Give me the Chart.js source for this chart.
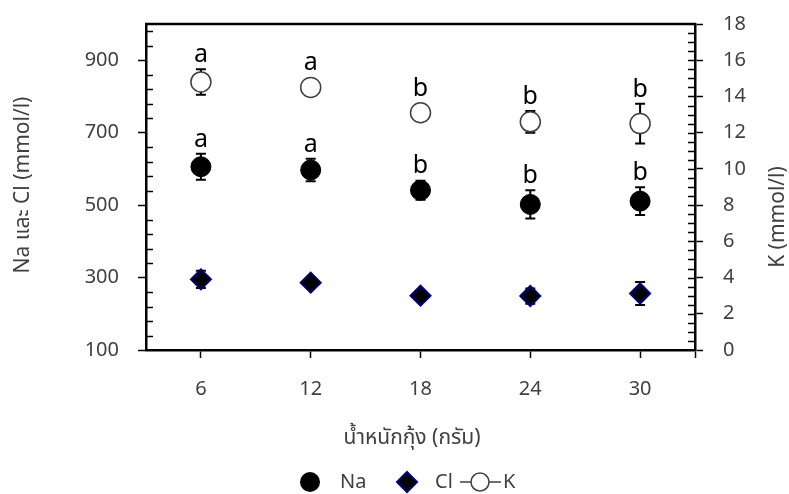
<!DOCTYPE html>
<html>
<head>
<meta charset="utf-8">
<script src="https://cdn.jsdelivr.net/npm/chart.js@4/dist/chart.umd.min.js"></script>
<style>
  html, body { margin: 0; padding: 0; background: #fff; }
  #wrap { width: 789px; height: 494px; }
</style>
</head>
<body>
<div id="wrap"><canvas id="chart" width="789" height="494"></canvas></div>
<script>
// shrimp weight (g) and ion levels
const weights = [6, 12, 18, 24, 30];
const naValues = [606, 597, 541, 502, 511];
const naErrors = [36, 31, 26, 39, 38];
const clValues = [295, 286, 250, 249, 256];
const clErrors = [24, 10, 12, 21, 32];
const kValues = [14.8, 14.5, 13.1, 12.6, 12.5];
const kErrors = [0.7, 0.45, 0.3, 0.6, 1.1];
const naLetters = ['a', 'a', 'b', 'b', 'b'];
const kLetters = ['a', 'a', 'b', 'b', 'b'];
const leftTicks = [100, 300, 500, 700, 900];
const rightTicks = [0, 2, 4, 6, 8, 10, 12, 14, 16, 18];

const font = "'Noto Sans', 'Noto Sans Thai', 'DejaVu Sans', sans-serif";
const textColor = '#404040';

const toPoints = (vals) => weights.map((w, i) => ({ x: w, y: vals[i] }));

const decor = {
    id: 'decor',
    beforeDatasetsDraw(chart) {
        const ctx = chart.ctx;
        const errs = [naErrors, clErrors, kErrors];
        ctx.save();
        ctx.strokeStyle = '#000';
        ctx.lineWidth = 2;
        chart.data.datasets.forEach((ds, d) => {
            const ys = chart.scales[ds.yAxisID];
            const xs = chart.scales.x;
            ds.data.forEach((p, i) => {
                const x = xs.getPixelForValue(p.x);
                const top = ys.getPixelForValue(p.y + errs[d][i]);
                const bot = ys.getPixelForValue(p.y - errs[d][i]);
                ctx.beginPath();
                ctx.moveTo(x, top); ctx.lineTo(x, bot);
                ctx.moveTo(x - 5, top); ctx.lineTo(x + 5, top);
                ctx.moveTo(x - 5, bot); ctx.lineTo(x + 5, bot);
                ctx.stroke();
            });
        });
        ctx.restore();
    },
    afterDatasetsDraw(chart) {
        const ctx = chart.ctx;
        ctx.save();
        ctx.fillStyle = '#000';
        ctx.font = '25px ' + font;
        ctx.textAlign = 'center';
        ctx.textBaseline = 'alphabetic';
        const groups = [[naValues, naErrors, naLetters, 'y'], [kValues, kErrors, kLetters, 'y1']];
        groups.forEach(([vals, errs, letters, axis]) => {
            const ys = chart.scales[axis];
            vals.forEach((v, i) => {
                const x = chart.scales.x.getPixelForValue(weights[i]);
                const top = Math.min(ys.getPixelForValue(v + errs[i]), ys.getPixelForValue(v) - 10);
                ctx.fillText(letters[i], x, top - 7);
            });
        });
        ctx.restore();
    },
    afterDraw(chart) {
        const ctx = chart.ctx;
        const a = chart.chartArea;
        const yl = chart.scales.y, yr = chart.scales.y1;
        ctx.save();
        // top frame line
        ctx.strokeStyle = '#000';
        ctx.lineWidth = 2.5;
        ctx.beginPath();
        ctx.moveTo(a.left - 1, a.top); ctx.lineTo(a.right + 1, a.top);
        ctx.stroke();
        // minor ticks
        ctx.lineWidth = 1.3;
        ctx.beginPath();
        for (let v = 140; v < 1000; v += 40) {
            if ((v - 100) % 200 === 0) continue;
            const y = Math.round(yl.getPixelForValue(v)) + 0.5;
            ctx.moveTo(a.left, y); ctx.lineTo(a.left + 7, y);
        }
        for (let v = 0.5; v < 18; v += 0.5) {
            const y = Math.round(yr.getPixelForValue(v)) + 0.5;
            ctx.moveTo(a.right - 7, y); ctx.lineTo(a.right, y);
        }
        ctx.stroke();
        // axis titles
        ctx.fillStyle = textColor;
        ctx.font = '21px ' + font;
        ctx.textAlign = 'center';
        ctx.textBaseline = 'middle';
        ctx.save();
        ctx.translate(23, 185);
        ctx.rotate(-Math.PI / 2);
        ctx.fillText('Na และ Cl (mmol/l)', 0, 0);
        ctx.restore();
        ctx.save();
        ctx.translate(778, 217);
        ctx.rotate(-Math.PI / 2);
        ctx.fillText('K (mmol/l)', 0, 0);
        ctx.restore();
        ctx.fillText('น้ำหนักกุ้ง (กรัม)', 412, 438);
        // legend
        const ly = 482;
        ctx.fillStyle = '#000';
        ctx.beginPath(); ctx.arc(310, ly, 10, 0, Math.PI * 2); ctx.fill();
        ctx.beginPath();
        ctx.moveTo(407, ly - 10); ctx.lineTo(417, ly); ctx.lineTo(407, ly + 10); ctx.lineTo(397, ly);
        ctx.closePath();
        ctx.fill();
        ctx.strokeStyle = '#00007f'; ctx.lineWidth = 2; ctx.stroke();
        ctx.strokeStyle = '#404040'; ctx.lineWidth = 1.5;
        ctx.beginPath(); ctx.moveTo(460, ly); ctx.lineTo(501, ly); ctx.stroke();
        ctx.fillStyle = '#fff';
        ctx.beginPath(); ctx.arc(480, ly, 9, 0, Math.PI * 2); ctx.fill(); ctx.stroke();
        ctx.fillStyle = textColor;
        ctx.textAlign = 'left';
        ctx.font = '20px ' + font;
        ctx.fillText('Na', 340, ly);
        ctx.fillText('Cl', 435, ly);
        ctx.fillText('K', 503, ly);
        ctx.restore();
    }
};

const noPad = (s) => { s.paddingTop = 0; s.paddingBottom = 0; };

new Chart(document.getElementById('chart'), {
    type: 'scatter',
    data: {
        datasets: [{
            label: 'Na',
            data: toPoints(naValues),
            yAxisID: 'y',
            pointStyle: 'circle',
            pointRadius: 10,
            pointBackgroundColor: '#000',
            pointBorderColor: '#000',
            pointBorderWidth: 1
        }, {
            label: 'Cl',
            data: toPoints(clValues),
            yAxisID: 'y',
            pointStyle: 'rectRot',
            pointRadius: 10,
            pointBackgroundColor: '#000',
            pointBorderColor: '#00007f',
            pointBorderWidth: 2
        }, {
            label: 'K',
            data: toPoints(kValues),
            yAxisID: 'y1',
            pointStyle: 'circle',
            pointRadius: 10,
            pointBackgroundColor: '#fff',
            pointBorderColor: '#404040',
            pointBorderWidth: 1.5
        }]
    },
    options: {
        responsive: false,
        animation: false,
        layout: { padding: { top: 24, left: 0, right: 0, bottom: 0 } },
        plugins: { legend: { display: false }, tooltip: { enabled: false } },
        scales: {
            x: {
                type: 'linear',
                min: 3,
                max: 33,
                afterFit: (s) => { s.height = 144; s.paddingLeft = 0; s.paddingRight = 0; },
                afterBuildTicks: (s) => { s.ticks = weights.concat([33]).map(v => ({ value: v })); },
                border: { display: true, color: '#000', width: 2.5 },
                grid: { drawOnChartArea: false, drawTicks: true, tickLength: 8, tickColor: '#000', tickWidth: 1.5 },
                ticks: {
                    padding: 19,
                    color: textColor,
                    font: { family: font, size: 20 },
                    maxRotation: 0,
                    callback: (v) => weights.includes(v) ? String(v) : ''
                }
            },
            y: {
                position: 'left',
                min: 100,
                max: 1000,
                afterFit: (s) => { s.width = 146; noPad(s); },
                afterBuildTicks: (s) => { s.ticks = leftTicks.map(v => ({ value: v })); },
                border: { display: true, color: '#000', width: 2.5 },
                grid: { drawOnChartArea: false, drawTicks: true, tickLength: 8, tickColor: '#000', tickWidth: 1.5 },
                ticks: { padding: 19, color: textColor, font: { family: font, size: 20 } }
            },
            y1: {
                position: 'right',
                min: 0,
                max: 18,
                afterFit: (s) => { s.width = 94; noPad(s); },
                afterBuildTicks: (s) => { s.ticks = rightTicks.map(v => ({ value: v })); },
                border: { display: true, color: '#000', width: 2.5 },
                grid: { drawOnChartArea: false, drawTicks: true, tickLength: 8, tickColor: '#000', tickWidth: 1.5 },
                ticks: { padding: 20, color: textColor, font: { family: font, size: 20 } }
            }
        }
    },
    plugins: [decor]
});
</script>
</body>
</html>
